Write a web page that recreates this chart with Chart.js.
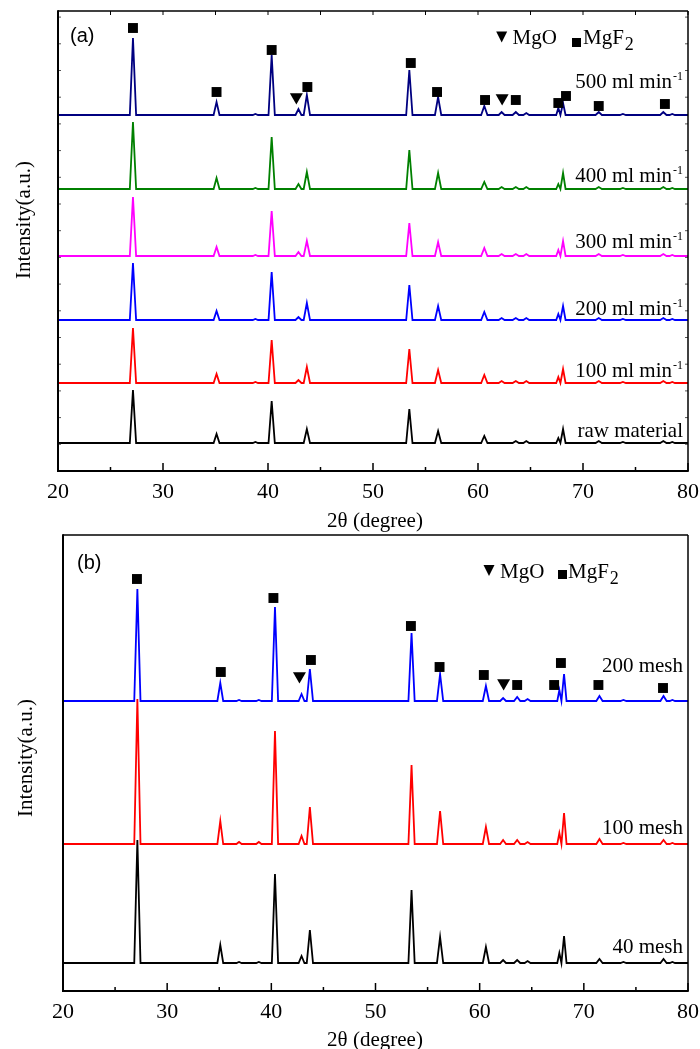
<!DOCTYPE html>
<html>
<head>
<meta charset="utf-8">
<title>XRD patterns</title>
<script src="https://cdn.jsdelivr.net/npm/chart.js@4.4.1/dist/chart.umd.min.js"></script>
<style>
  body { margin: 0; background: #fff; }
  .panel { position: absolute; left: 0; width: 700px; }
  #wrapA { top: 0; height: 540px; }
  #wrapB { top: 525px; height: 524px; }
</style>
</head>
<body>
<div class="panel" id="wrapA"><canvas id="chartA" width="700" height="540"></canvas></div>
<div class="panel" id="wrapB"><canvas id="chartB" width="700" height="524"></canvas></div>
<script>
// peak positions, 2theta (degree), shared by all patterns
const peakPos = [27.14, 35.1, 36.9, 38.8, 40.35, 42.9, 43.7, 53.46, 56.2, 60.6, 62.25, 63.6, 64.6, 67.65, 68.1, 71.5, 73.8, 77.65, 78.5];
const peakHalfWidth = [0.3, 0.28, 0.25, 0.25, 0.3, 0.28, 0.3, 0.3, 0.3, 0.3, 0.28, 0.3, 0.28, 0.2, 0.24, 0.3, 0.28, 0.3, 0.25];
const xTicks = [20, 30, 40, 50, 60, 70, 80];

// (a) gas flow rate - peak heights above the baseline of each pattern
const flow500 = [77, 13, 0, 1, 60, 6, 20, 45, 18, 9, 3, 3, 2, 7, 12, 3, 1, 3, 1];
const flow400 = [67, 11, 0, 1, 52, 5, 17, 39, 16, 7, 2, 2, 2, 5, 16, 2, 1, 2, 1];
const flow300 = [59, 9, 0, 1, 45, 4, 15, 33, 14, 8, 2, 2, 2, 6, 15, 2, 1, 2, 1];
const flow200 = [57, 9, 0, 1, 48, 3, 17, 35, 14, 8, 2, 2, 2, 6, 14, 2, 1, 2, 1];
const flow100 = [55, 9, 0, 1, 43, 3, 16, 34, 13, 8, 2, 2, 2, 6, 14, 2, 1, 2, 1];
const flowRaw = [53, 9, 0, 1, 42, 0, 14, 34, 12, 7, 0, 2, 2, 5, 14, 2, 1, 2, 1];
const flowBase = [356, 282, 215, 151, 88, 28];
const flowNames = ['500 ml min', '400 ml min', '300 ml min', '200 ml min', '100 ml min', 'raw material'];

// (b) particle size
const mesh200 = [112, 18, 1, 1, 94, 7, 32, 68, 27, 15, 3, 4, 2, 11, 27, 5, 1, 5, 1];
const mesh100 = [145, 23, 2, 2, 113, 8, 37, 79, 33, 17, 4, 4, 2, 11, 31, 5, 1, 4, 1];
const mesh40 = [123, 18, 1, 1, 89, 7, 33, 73, 26, 16, 3, 3, 2, 10, 27, 4, 1, 4, 1];
const meshBase = [290, 147, 28];
const meshNames = ['200 mesh', '100 mesh', '40 mesh'];

// phase marks [2theta, height]
const mgf2MarksA = [[27.14, 443], [35.1, 379], [40.35, 421], [43.75, 384], [53.6, 408], [56.1, 379], [60.67, 371], [63.6, 371], [67.65, 368], [68.38, 375], [71.5, 365], [77.8, 367]];
const mgoMarksA = [[42.7, 374], [62.3, 373]];
const mgf2MarksB = [[27.1, 412], [35.15, 319], [40.2, 393], [43.8, 331], [53.4, 365], [56.15, 324], [60.4, 316], [63.6, 306], [67.15, 306], [67.8, 328], [71.4, 306], [77.6, 303]];
const mgoMarksB = [[42.7, 315], [62.3, 308]];

const serif = "'Liberation Serif', 'Times New Roman', serif";
const sans = "'Liberation Sans', Arial, sans-serif";

function pattern(base, heights) {
  const pts = [{x: 20, y: base}];
  peakPos.forEach((p, i) => {
    if (!heights[i]) return;
    const w = peakHalfWidth[i];
    pts.push({x: p - w, y: base}, {x: p, y: base + heights[i]}, {x: p + w, y: base});
  });
  pts.push({x: 80, y: base});
  return pts;
}

function marks(list, style) {
  return {
    data: list.map(m => ({x: m[0], y: m[1]})),
    showLine: false,
    pointStyle: style,
    pointRadius: style === 'rect' ? 7 : 7.5,
    rotation: style === 'rect' ? 0 : 180,
    backgroundColor: '#000',
    borderWidth: 0
  };
}

function trace(pts, color) {
  return {data: pts, borderColor: color, borderWidth: 1.8, pointRadius: 0, tension: 0, fill: false};
}

const decor = {
  id: 'decor',
  afterDraw(chart, args, o) {
    const {ctx, chartArea: a, scales: {x, y}} = chart;
    ctx.save();
    ctx.strokeStyle = '#000';
    ctx.fillStyle = '#000';
    const seg = (x1, y1, x2, y2, w) => {
      ctx.lineWidth = w;
      ctx.beginPath(); ctx.moveTo(x1, y1); ctx.lineTo(x2, y2); ctx.stroke();
    };
    for (let v = 20; v <= 80; v += 5) {
      const px = x.getPixelForValue(v);
      seg(px, a.bottom, px, a.bottom - (v % 10 === 0 ? 8 : 4), 1.5);
      if (o.topTicks) seg(px, a.top, px, a.top + 4, 1);
    }
    if (o.sideTicks) {
      ctx.strokeStyle = '#555';
      for (let v = o.sideTicks; v < y.max; v += o.sideTicks) {
        const py = y.getPixelForValue(v);
        seg(a.left, py, a.left + 3, py, 1);
        seg(a.right, py, a.right - 3, py, 1);
      }
      ctx.strokeStyle = '#000';
    }
    // frame
    seg(a.left, a.top, a.right, a.top, 1.5);
    seg(a.right, a.top, a.right, a.bottom, 1.5);
    seg(a.left, a.bottom, a.right + 0.75, a.bottom, 2);
    seg(a.left, a.top - 0.75, a.left, a.bottom + 1, 2);

    // panel letter
    ctx.font = '20px ' + sans;
    ctx.textAlign = 'left';
    ctx.textBaseline = 'alphabetic';
    ctx.fillText(o.letter, o.letterX, o.letterY);

    // phase legend
    const lg = o.legend;
    ctx.beginPath();
    ctx.moveTo(lg.triX - 5.5, lg.triTop);
    ctx.lineTo(lg.triX + 5.5, lg.triTop);
    ctx.lineTo(lg.triX, lg.triTop + 11);
    ctx.closePath();
    ctx.fill();
    ctx.fillRect(lg.sqX, lg.sqTop, 9, 9);
    ctx.font = '21px ' + serif;
    ctx.fillText('MgO', lg.mgoX, lg.base);
    ctx.fillText('MgF', lg.mgfX, lg.base);
    const wf = ctx.measureText('MgF').width;
    ctx.font = '18px ' + serif;
    ctx.fillText('2', lg.mgfX + wf + 1, lg.base + 6);

    // pattern labels
    o.labels.forEach(l => {
      ctx.font = '21px ' + serif;
      ctx.textAlign = 'right';
      const py = y.getPixelForValue(l.y);
      if (l.sup) {
        ctx.font = '12px ' + serif;
        const ws = ctx.measureText(l.sup).width;
        ctx.fillText(l.sup, o.labelRight, py - 8);
        ctx.font = '21px ' + serif;
        ctx.fillText(l.text, o.labelRight - ws - 1, py);
      } else {
        ctx.fillText(l.text, o.labelRight, py);
      }
    });

    // axis titles
    ctx.font = '21px ' + serif;
    ctx.textAlign = 'center';
    ctx.fillText('2\u03b8 (degree)', o.xTitleX, o.xTitleY);
    ctx.save();
    ctx.translate(o.yTitleX, o.yTitleY);
    ctx.rotate(-Math.PI / 2);
    ctx.textBaseline = 'middle';
    ctx.fillText('Intensity(a.u.)', 0, 0);
    ctx.restore();
    ctx.restore();
  }
};

function xAxis(height) {
  return {
    type: 'linear', min: 20, max: 80,
    afterBuildTicks: s => { s.ticks = xTicks.map(v => ({value: v})); },
    afterFit: s => { s.height = height; },
    grid: {display: false}, border: {display: false},
    ticks: {color: '#000', font: {family: serif, size: 22}, padding: 0, maxRotation: 0, autoSkip: false}
  };
}

const flowColors = ['#000080', '#008000', '#ff00ff', '#0000ff', '#ff0000', '#000000'];
const flowSets = [flow500, flow400, flow300, flow200, flow100, flowRaw];
const labelYA = [383, 289, 223, 156, 94, 34];

new Chart('chartA', {
  type: 'line',
  data: {
    datasets: [marks(mgf2MarksA, 'rect'), marks(mgoMarksA, 'triangle')]
      .concat(flowSets.map((h, i) => trace(pattern(flowBase[i], h), flowColors[i])))
  },
  options: {
    responsive: false, animation: false,
    layout: {padding: {left: 58, right: 12, top: 11, bottom: 0}},
    scales: {x: xAxis(69), y: {display: false, min: 0, max: 460}},
    plugins: {
      legend: {display: false}, tooltip: {enabled: false},
      decor: {
        letter: '(a)', letterX: 70, letterY: 42, topTicks: true, sideTicks: 26.7,
        legend: {triX: 501.7, triTop: 31.5, sqX: 572, sqTop: 38, mgoX: 512.5, mgfX: 583, base: 44},
        labels: flowNames.map((t, i) => ({text: t, sup: i < 5 ? '-1' : '', y: labelYA[i]})),
        labelRight: 683, xTitleX: 375, xTitleY: 527, yTitleX: 24, yTitleY: 220
      }
    }
  },
  plugins: [decor]
});

const meshColors = ['#0000ff', '#ff0000', '#000000'];
const meshSets = [mesh200, mesh100, mesh40];
const labelYB = [319, 157, 38];

new Chart('chartB', {
  type: 'line',
  data: {
    datasets: [marks(mgf2MarksB, 'rect'), marks(mgoMarksB, 'triangle')]
      .concat(meshSets.map((h, i) => trace(pattern(meshBase[i], h), meshColors[i])))
  },
  options: {
    responsive: false, animation: false,
    layout: {padding: {left: 63, right: 12, top: 10, bottom: 0}},
    scales: {x: xAxis(58), y: {display: false, min: 0, max: 456}},
    plugins: {
      legend: {display: false}, tooltip: {enabled: false},
      decor: {
        letter: '(b)', letterX: 77, letterY: 44, topTicks: false, sideTicks: 0,
        legend: {triX: 489, triTop: 40, sqX: 558, sqTop: 45, mgoX: 500, mgfX: 568, base: 53},
        labels: meshNames.map((t, i) => ({text: t, sup: '', y: labelYB[i]})),
        labelRight: 683, xTitleX: 375, xTitleY: 521, yTitleX: 26, yTitleY: 233
      }
    }
  },
  plugins: [decor]
});
</script>
</body>
</html>
